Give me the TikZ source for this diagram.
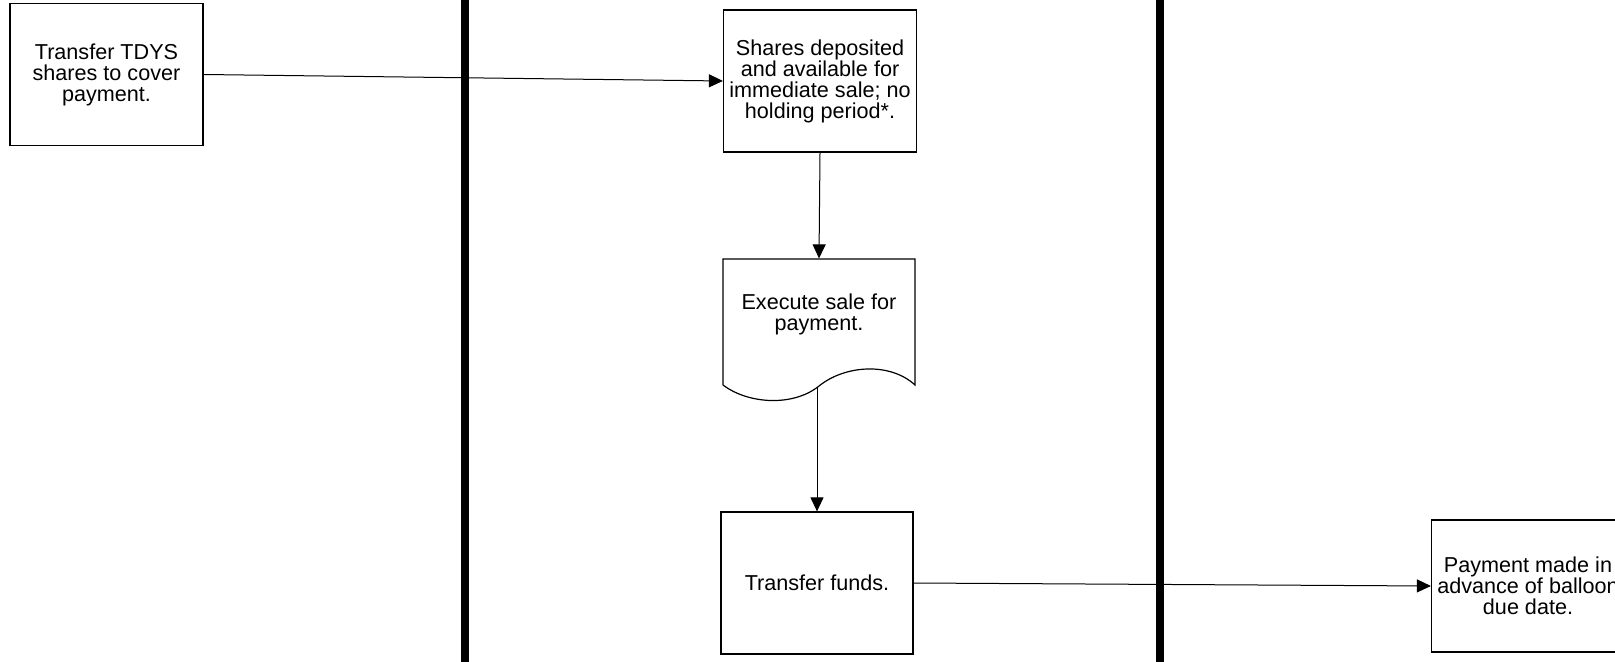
\documentclass[tikz,border=0pt]{standalone}
\usepackage{fontspec}
\setmainfont{Liberation Sans}
\usetikzlibrary{arrows.meta}

\begin{document}
\begin{tikzpicture}[x=0.5pt,y=-0.5pt,
  box/.style={draw,line width=0.6pt,minimum width=96.5pt,minimum height=71pt,
    inner sep=0pt,align=center,font=\fontsize{10.8}{10.5}\selectfont},
  flow/.style={-{Triangle[length=7pt,width=6.5pt]},line width=0.5pt}]
\useasboundingbox (0,0) rectangle (1615,662);
% lane dividers
\draw[line width=4pt] (465,0) -- (465,662);
\draw[line width=4pt] (1160,0) -- (1160,662);
% steps
\node[box] (tdys) at (106.5,74.5) {Transfer TDYS\\shares to cover\\payment.};
\node[box] (shares) at (820,81) {Shares deposited\\and available for\\immediate sale; no\\holding period*.};
\node[box,draw=none,minimum width=96pt,minimum height=55pt] (sale) at (819,314) {Execute sale for\\payment.};
\draw[line width=0.6pt] (723,385) -- (723,259) -- (915,259) -- (915,385)
  .. controls (890,362) and (845,365) .. (819,386)
  .. controls (793,407) and (748,404) .. (723,385);
\coordinate (wave) at (817,387);
\node[box,minimum width=96pt] (funds) at (817,583) {Transfer funds.};
\node[box,minimum height=66pt] (pay) at (1528,586) {Payment made in\\advance of balloon\\due date.};
% connectors
\draw[flow] (tdys.east) -- (shares.west);
\draw[flow] (shares.south) -- (sale.north);
\draw[flow] (wave) -- (funds.north);
\draw[flow] (funds.east) -- (pay.west);
\end{tikzpicture}
\end{document}
